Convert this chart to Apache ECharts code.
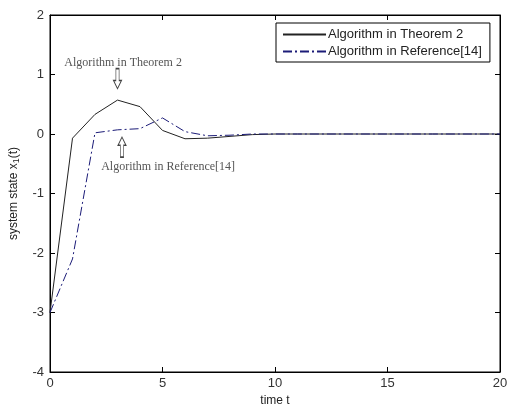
<!DOCTYPE html>
<html>
<head>
<meta charset="utf-8">
<script src="https://cdn.jsdelivr.net/npm/echarts@6/dist/echarts.min.js"></script>
<style>
  html, body { margin: 0; padding: 0; background: #fff; }
  #chart { width: 507px; height: 407px; }
</style>
</head>
<body>
<div id="chart"></div>
<script>
// time steps and the two trajectories of x1(t)
const timeSteps = [0, 1, 2, 3, 4, 5, 6, 7, 8, 9, 10, 11, 12, 13, 14, 15, 16, 17, 18, 19, 20];
const theorem2 = [-3, -0.07, 0.33, 0.57, 0.46, 0.06, -0.08, -0.07, -0.04, -0.01, 0, 0, 0, 0, 0, 0, 0, 0, 0, 0, 0];
const reference14 = [-3, -2.1, 0.02, 0.07, 0.09, 0.27, 0.04, -0.03, -0.02, 0, 0, 0, 0, 0, 0, 0, 0, 0, 0, 0, 0];
const xTicks = [0, 5, 10, 15, 20];
const yTicks = [-4, -3, -2, -1, 0, 1, 2];

const myChart = echarts.init(document.getElementById('chart'));

const toPairs = (ys) => timeSteps.map((t, i) => [t, ys[i]]);

// hollow arrows used by the annotations
const downArrow = 'path://M3,0 L7,0 L7,13 L10,13 L5,22 L0,13 L3,13 Z';
const upArrow = 'path://M5,0 L10,9 L7,9 L7,22 L3,22 L3,9 L0,9 Z';
const noteFont = { fontFamily: 'Liberation Serif, serif', fontSize: 12, color: '#555' };

const tickStyle = { show: true, inside: true, length: 5, lineStyle: { color: '#000' } };

const option = {
  animation: false,
  backgroundColor: '#fff',
  grid: {
    left: 50, right: 7, top: 15, bottom: 35,
    outerBoundsMode: 'none',
    show: true, borderColor: '#000', borderWidth: 1
  },
  legend: {
    orient: 'vertical',
    left: 276,
    top: 23,
    padding: [5, 8, 4, 6],
    itemGap: 4,
    itemWidth: 43,
    itemHeight: 10,
    borderColor: '#000',
    borderWidth: 1,
    backgroundColor: '#fff',
    itemStyle: { opacity: 0 },
    textStyle: { fontFamily: 'Liberation Sans, Arial', fontSize: 13, color: '#222', padding: [0, 0, 0, -3] },
    data: ['Algorithm in Theorem 2', 'Algorithm in Reference[14]']
  },
  xAxis: [{
    type: 'value',
    min: 0, max: 20, interval: 5,
    name: 'time t',
    nameLocation: 'middle',
    nameGap: 23,
    nameTextStyle: { fontFamily: 'Liberation Sans, Arial', fontSize: 12, color: '#222' },
    axisLine: { show: true, onZero: false, lineStyle: { color: '#000' } },
    axisTick: tickStyle,
    axisLabel: {
      margin: 5, fontFamily: 'Liberation Sans, Arial', fontSize: 13, color: '#333',
      customValues: xTicks
    },
    splitLine: { show: false }
  }, {
    type: 'value', position: 'top',
    min: 0, max: 20, interval: 5,
    axisLine: { show: true, onZero: false, lineStyle: { color: '#000' } },
    axisTick: tickStyle,
    axisLabel: { show: false },
    splitLine: { show: false }
  }],
  yAxis: [{
    type: 'value',
    min: -4, max: 2, interval: 1,
    name: 'system state x{sub|1}(t)',
    nameLocation: 'middle',
    nameGap: 29,
    nameTextStyle: {
      fontFamily: 'Liberation Sans, Arial', fontSize: 12, color: '#222',
      rich: { sub: { fontFamily: 'Liberation Sans, Arial', fontSize: 9, color: '#222', verticalAlign: 'bottom', padding: [6, 0, 0, 0] } }
    },
    axisLine: { show: true, onZero: false, lineStyle: { color: '#000' } },
    axisTick: tickStyle,
    axisLabel: {
      margin: 6, fontFamily: 'Liberation Sans, Arial', fontSize: 13, color: '#333',
      customValues: yTicks
    },
    splitLine: { show: false }
  }, {
    type: 'value', position: 'right',
    min: -4, max: 2, interval: 1,
    axisLine: { show: true, onZero: false, lineStyle: { color: '#000' } },
    axisTick: tickStyle,
    axisLabel: { show: false },
    splitLine: { show: false }
  }],
  series: [{
    name: 'Algorithm in Theorem 2',
    type: 'line',
    data: toPairs(theorem2),
    symbol: 'none',
    lineStyle: { color: '#222', width: 1 },
    itemStyle: { color: '#222' },
    markPoint: {
      silent: true,
      data: [{
        coord: [3, 0.93],
        symbol: downArrow,
        symbolSize: [8, 20],
        itemStyle: { color: '#fff', borderColor: '#444', borderWidth: 1 },
        label: { show: false }
      }, {
        coord: [3.25, 1.2],
        symbol: 'circle',
        symbolSize: 1,
        itemStyle: { color: 'transparent' },
        label: { show: true, position: 'inside', formatter: 'Algorithm in Theorem 2', ...noteFont }
      }]
    }
  }, {
    name: 'Algorithm in Reference[14]',
    type: 'line',
    data: toPairs(reference14),
    symbol: 'none',
    lineStyle: { color: '#1c1c78', width: 1, type: [9, 3, 2, 3] },
    itemStyle: { color: '#1c1c78' },
    markPoint: {
      silent: true,
      data: [{
        coord: [3.2, -0.22],
        symbol: upArrow,
        symbolSize: [8, 20],
        itemStyle: { color: '#fff', borderColor: '#444', borderWidth: 1 },
        label: { show: false }
      }, {
        coord: [5.25, -0.55],
        symbol: 'circle',
        symbolSize: 1,
        itemStyle: { color: 'transparent' },
        label: { show: true, position: 'inside', formatter: 'Algorithm in Reference[14]', ...noteFont }
      }]
    }
  }]
};

myChart.setOption(option);
</script>
</body>
</html>
